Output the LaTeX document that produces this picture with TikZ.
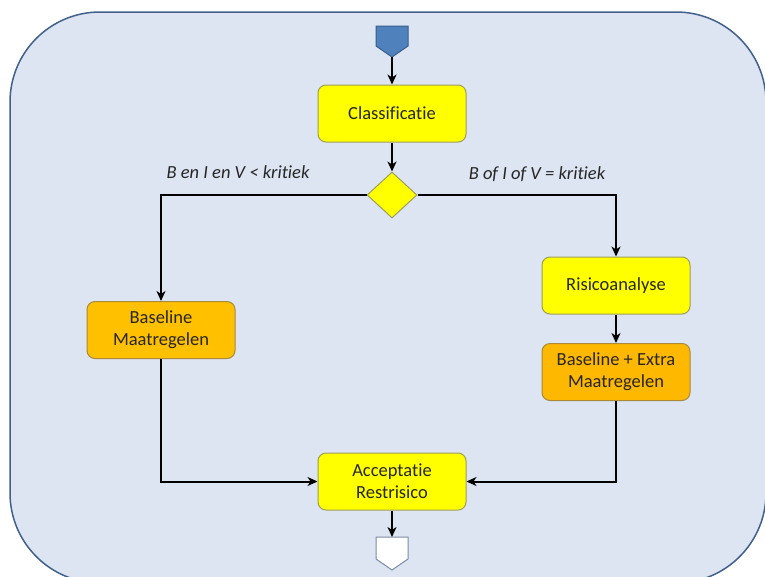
\documentclass[tikz,border=0pt]{standalone}
\usepackage{fontspec}
\setmainfont{Carlito}[Ligatures=NoCommon]
\usetikzlibrary{arrows.meta,shapes.geometric}
\definecolor{bgfill}{HTML}{DCE5F1}
\definecolor{bgline}{HTML}{41618C}
\definecolor{pblue}{HTML}{4F81BD}
\definecolor{pblueline}{HTML}{385D8A}
\definecolor{boxyellow}{HTML}{FFFF00}
\definecolor{yline}{HTML}{9E9E5C}
\definecolor{boxorange}{HTML}{FFC000}
\definecolor{boxorange2}{HTML}{FFB800}
\definecolor{oline}{HTML}{A88A3A}
\definecolor{txt}{HTML}{262626}
\definecolor{wline}{HTML}{7A8CA6}
\tikzset{
  box/.style={rectangle, rounded corners=8pt, minimum width=148pt, minimum height=57pt,
    line width=1pt, align=center, text=txt, inner sep=2pt,
    font=\fontsize{18.5}{22}\selectfont},
  ybox/.style={box, fill=boxyellow, draw=yline},
  obox/.style={box, fill=boxorange, draw=oline},
  cond/.style={text=txt, font=\fontsize{18.5}{22}\selectfont\itshape},
  arr/.style={line width=2pt, black, -{Stealth[length=10pt,width=9pt,inset=3pt]}},
  ln/.style={line width=2pt, black}
}
\begin{document}
\begin{tikzpicture}[x=1pt,y=-1pt]
\useasboundingbox (0,0) rectangle (765,576);
\begin{scope}
\clip (0,0) rectangle (765,576);
\draw[fill=bgfill, draw=bgline, line width=1.5pt, rounded corners=90pt] (10,12) rectangle (766,583);
\end{scope}
% start connector
\draw[fill=pblue, draw=pblueline, line width=1pt] (376,26) -- (408,26) -- (408,46) -- (392,57) -- (376,46) -- cycle;
\coordinate (starttip) at (392,57);
% end connector
\draw[fill=white, draw=wline, line width=1pt] (376,537) -- (408,537) -- (408,559) -- (392,570) -- (376,559) -- cycle;
\coordinate (endtop) at (392,537);
% nodes
\node[ybox] (class) at (392,113.5) {Classificatie};
\node[diamond, fill=boxyellow, draw=yline, line width=1pt, minimum width=50pt, minimum height=46pt, inner sep=0pt] (dia) at (392,195) {};
\node[obox] (base) at (161,330) {Baseline\\Maatregelen};
\node[ybox] (risk) at (616,285.5) {Risicoanalyse};
\node[obox, fill=boxorange2] (extra) at (616,372) {Baseline + Extra\\Maatregelen};
\node[ybox] (acc) at (392,481.5) {Acceptatie\\Restrisico};
% labels
\node[cond] (lblL) at (238,172) {B en I en V < kritiek};
\node[cond] (lblR) at (537,174) {B of I of V = kritiek};
% connectors
\draw[arr] (starttip) -- (class.north);
\draw[arr] (class.south) -- (dia.north);
\draw[arr] (dia.west) -| (base.north);
\draw[arr] (dia.east) -| (risk.north);
\draw[arr] (risk.south) -- (extra.north);
\draw[arr] (base.south) |- (acc.west);
\draw[arr] (extra.south) |- (acc.east);
\draw[arr] (acc.south) -- (endtop);
\end{tikzpicture}
\end{document}
